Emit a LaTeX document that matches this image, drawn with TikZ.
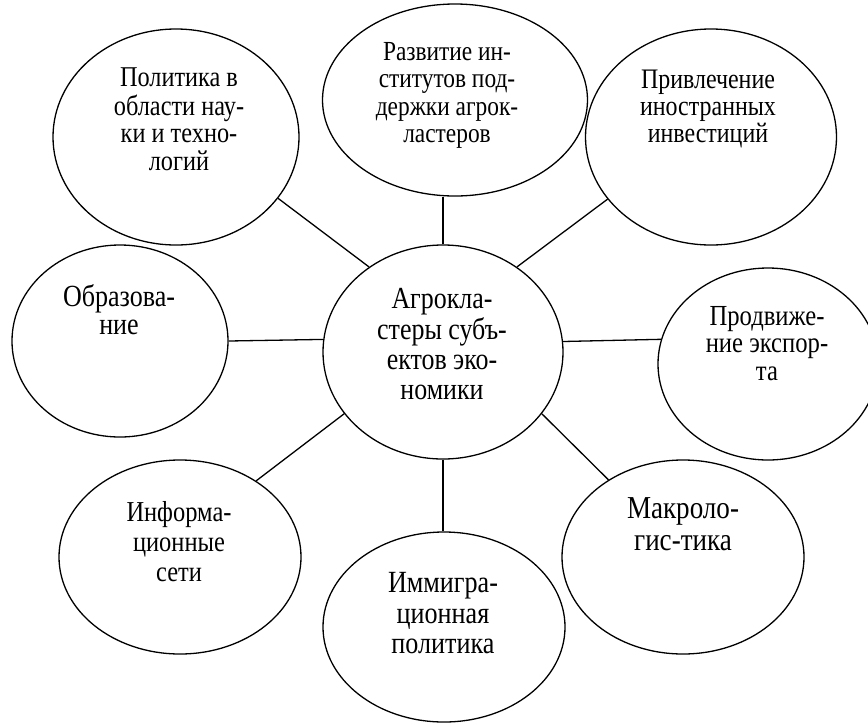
\documentclass[tikz,border=0pt]{standalone}
\usepackage{graphicx}
\usepackage{fontspec}
\setmainfont{Liberation Serif}
\usetikzlibrary{shapes.geometric}
\newlength{\fitw}
% #1 target width (px) of sample #2, #3 final line spacing (px), #4 lines
\newcommand{\fittxt}[4]{%
  \settowidth{\fitw}{\fontsize{10pt}{12pt}\selectfont #2}%
  \pgfmathsetmacro{\fsz}{10*#1/\fitw}%
  \pgfmathsetmacro{\bsk}{#3/1.18}%
  \fontsize{\fsz pt}{\bsk pt}\selectfont
  \scalebox{1}[1.18]{\begin{tabular}{@{}c@{}}#4\end{tabular}}}
\begin{document}
\begin{tikzpicture}[x=1pt,y=-1pt,
  bub/.style={draw, ellipse, line width=1.3pt, inner sep=0pt},
  txt/.style={inner sep=0pt},
  link/.style={line width=1.3pt}]
\useasboundingbox (0,0) rectangle (868,724);
% ellipses
\node[bub, minimum width=246, minimum height=216] (pol) at (176,137) {};
\node[bub, minimum width=265, minimum height=192] (raz) at (455,100) {};
\node[bub, minimum width=251, minimum height=216] (pri) at (711,137) {};
\node[bub, minimum width=216, minimum height=192] (obr) at (120,341) {};
\node[bub, minimum width=240, minimum height=214] (cen) at (443,352) {};
\node[bub, minimum width=220, minimum height=192] (pro) at (768,364) {};
\node[bub, minimum width=242, minimum height=194] (inf) at (180,557) {};
\node[bub, minimum width=242, minimum height=190] (imm) at (444,627) {};
\node[bub, minimum width=242, minimum height=194] (mak) at (683,557) {};
% texts
\node[txt] (polt) at (179,123) {\fittxt{118}{Политика в}{27}{Политика в\\области нау-\\ки и техно-\\логий}};
\node[txt] (razt) at (447,96) {\fittxt{128}{Развитие ин-}{27.3}{Развитие ин-\\ститутов под-\\держки агрок-\\ластеров}};
\node[txt] (prit) at (708,110) {\fittxt{134}{Привлечение}{27}{Привлечение\\иностранных\\инвестиций}};
\node[txt] (obrt) at (119,314) {\fittxt{112}{Образова-}{28.5}{Образова-\\ние}};
\node[txt] (cent) at (442,348) {\fittxt{101}{Агрокла-}{30}{Агрокла-\\стеры субъ-\\ектов эко-\\номики}};
\node[txt] (prot) at (767,347) {\fittxt{115}{Продвиже-}{27.5}{Продвиже-\\ние экспор-\\та}};
\node[txt] (inft) at (179,545) {\fittxt{105}{Информа-}{30}{Информа-\\ционные\\сети}};
\node[txt] (immt) at (443,617) {\fittxt{110}{Иммигра-}{30.5}{Иммигра-\\ционная\\политика}};
\node[txt] (makt) at (683,528) {\fittxt{112}{Макроло-}{32}{Макроло-\\гис-тика}};
% connectors
\draw[link] (pol.-31.7) -- (cen.131);
\draw[link] (cen.north) -- (cen.north |- raz.south);
\draw[link] (pri.211.5) -- (cen.49);
\draw[link] (obr.east) -- (cen.174.7);
\draw[link] (cen.5.3) -- (pro.167.85);
\draw[link] (inf.45) -- (cen.212.9);
\draw[link] (cen.south) -- (cen.south |- imm.north);
\draw[link] (cen.-32.6) -- (mak.134.6);
\end{tikzpicture}
\end{document}
